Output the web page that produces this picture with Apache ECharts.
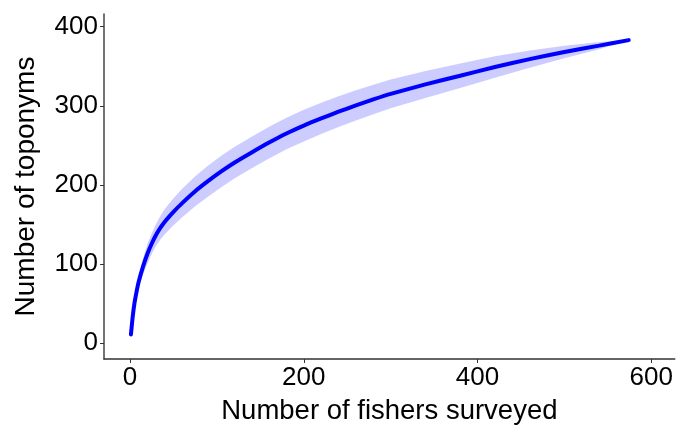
<!DOCTYPE html>
<html>
<head>
<meta charset="utf-8">
<script src="https://cdn.jsdelivr.net/npm/echarts@6/dist/echarts.min.js"></script>
<style>
html,body{margin:0;padding:0;background:#fff;}
#c{width:676px;height:435px;}
</style>
</head>
<body>
<div id="c"></div>
<script>
// Data
var fishers  = [1, 3, 5, 8, 10, 15, 20, 25, 30, 35, 40, 45, 50, 60, 75, 90, 105, 120, 140, 160, 180, 200, 220, 240, 260, 280, 300, 340, 380, 420, 460, 500, 540, 574];
var toponyms = [11, 33, 50, 68, 78, 97, 113, 126, 137, 146, 153.5, 160, 166, 177, 192, 205, 217, 228, 241, 253.5, 265, 275, 284, 292.5, 300.5, 308, 315, 327, 338, 349, 359, 368, 376, 383];
var ciLower  = [10, 30.5, 45, 61.5, 70, 87, 100.5, 113, 123, 131, 137.5, 143.5, 149, 159, 173, 185.5, 197, 208, 221, 233.5, 245, 255, 264.3, 273.1, 281.5, 289.4, 296.8, 310, 322.5, 335.5, 348, 360, 371.5, 383];
var ciUpper  = [12, 35.5, 55, 74.5, 86, 107, 125.5, 139, 151, 161, 169.5, 176.5, 183, 195, 211, 224.5, 237, 248, 261, 273.5, 285, 295, 303.7, 311.9, 319.5, 326.6, 333.2, 344, 353.5, 362.5, 370, 376, 380.5, 383];
var xTicks = [0, 200, 400, 600];
var yTicks = [0, 100, 200, 300, 400];

var chart = echarts.init(document.getElementById('c'), null, {renderer: 'canvas'});
var font = 'Liberation Sans, Arial, sans-serif';
var linePts = fishers.map(function (x, i) { return [x, toponyms[i]]; });

chart.setOption({
  backgroundColor: '#ffffff',
  animation: false,
  grid: {left: 104, right: 0, top: 14, bottom: 76, containLabel: false},
  xAxis: {
    type: 'value', min: -30, max: 627,
    name: 'Number of fishers surveyed', nameLocation: 'middle', nameGap: 38,
    nameTextStyle: {fontFamily: font, fontSize: 27.5, color: '#000'},
    axisLine: {show: true, onZero: false, lineStyle: {color: '#333', width: 1.5}},
    axisTick: {show: true, length: 4, customValues: xTicks, lineStyle: {color: '#333'}},
    axisLabel: {customValues: xTicks, fontFamily: font, fontSize: 26, color: '#000', margin: 6},
    splitLine: {show: false}
  },
  yAxis: {
    type: 'value', min: -20, max: 416,
    name: 'Number of toponyms', nameLocation: 'middle', nameGap: 64, nameRotate: 90,
    nameTextStyle: {fontFamily: font, fontSize: 28, color: '#000'},
    axisLine: {show: true, onZero: false, lineStyle: {color: '#444', width: 1.5}},
    axisTick: {show: true, length: 4, customValues: yTicks, lineStyle: {color: '#333'}},
    axisLabel: {customValues: yTicks, fontFamily: font, fontSize: 26, color: '#000', margin: 6},
    splitLine: {show: false}
  },
  series: [
    {
      type: 'custom',
      data: [[fishers[0], toponyms[0]]],
      clip: true,
      z: 1,
      renderItem: function (params, api) {
        var up = [], lo = [];
        for (var i = 0; i < fishers.length; i++) {
          up.push(api.coord([fishers[i], ciUpper[i]]));
          lo.push(api.coord([fishers[i], ciLower[i]]));
        }
        return {
          type: 'polygon',
          shape: {points: up.concat(lo.reverse()), smooth: 0},
          style: {fill: 'rgba(0,0,255,0.2)', stroke: null}
        };
      }
    },
    {
      type: 'line',
      data: linePts,
      smooth: 0.2,
      showSymbol: false,
      z: 2,
      lineStyle: {color: '#0000ff', width: 4, cap: 'round'}
    }
  ]
});
</script>
</body>
</html>
